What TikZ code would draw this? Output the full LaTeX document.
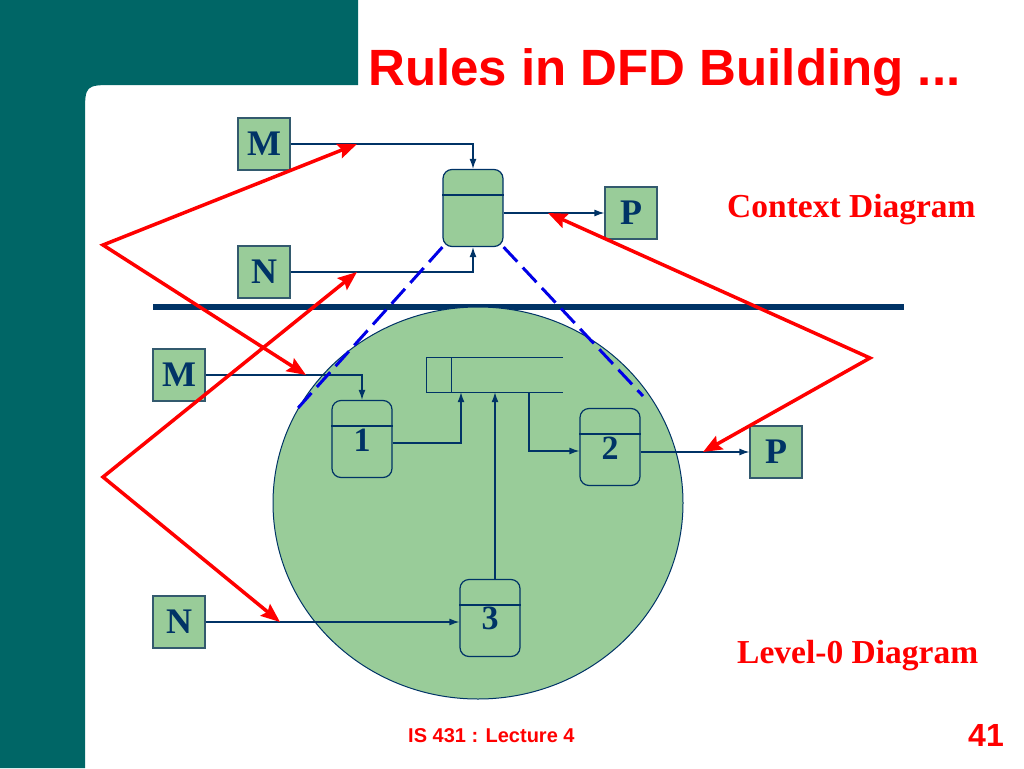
\documentclass[tikz,border=0pt]{standalone}
\usepackage{fontspec}
\setmainfont{Liberation Serif}
\newfontfamily\arialfont{Liberation Sans}
\usetikzlibrary{arrows.meta}

\definecolor{slideteal}{RGB}{0,102,102}
\definecolor{boxgreen}{RGB}{153,204,153}
\definecolor{navyline}{RGB}{0,51,102}
\definecolor{boxedge}{RGB}{51,90,110}
\definecolor{dashblue}{RGB}{0,0,230}

\tikzset{
  ext/.style={draw=boxedge, line width=1.2pt, fill=boxgreen, minimum size=52pt, inner sep=0pt,
    text=navyline, font=\fontsize{36}{36}\selectfont\bfseries},
  proc/.style={draw=navyline, line width=1.2pt, fill=boxgreen, rounded corners=9pt,
    minimum width=60pt, minimum height=77pt, inner sep=0pt},
  num/.style={text=navyline, font=\fontsize{34}{34}\selectfont\bfseries, inner sep=0pt},
  flow/.style={draw=navyline, line width=1.3pt, -{Latex[length=10pt,width=7pt]}},
  hint/.style={draw=red, line width=3.5pt,
    {Stealth[length=19pt,width=15pt,inset=3pt]}-{Stealth[length=19pt,width=15pt,inset=3pt]}},
  zoomline/.style={draw=dashblue, line width=3pt, dash pattern=on 20pt off 8pt},
  heading/.style={anchor=base west, inner sep=0pt, text=red},
}

\begin{document}
\begin{tikzpicture}[x=1pt, y=-1pt]
    \useasboundingbox (0,0) rectangle (1024,768);

    % slide frame
    \fill[slideteal] (0,0) -- (358,0) -- (358,85) -- (115,85) .. controls (85,85) .. (85,115) -- (85,768) -- (0,768) -- cycle;
    \node[heading, font=\arialfont\bfseries\fontsize{51}{51}\selectfont] (title) at (368,85) {Rules in DFD Building ...};

    \draw[navyline, line width=6pt] (153,307) -- (904,307);
    \draw[navyline, line width=1pt, fill=boxgreen] (478,503) ellipse [x radius=205pt, y radius=196pt];

    % context diagram
    \node[proc] (pc) at (473,208) {};
    \node[ext] (Mt) at (264,144) {M};
    \node[ext] (Nt) at (264,272) {N};
    \node[ext] (Pt) at (631,213) {P};

    % level-0 diagram
    \node[proc] (p1) at (362,439) {};
    \node[proc] (p2) at (610,447) {};
    \node[proc] (p3) at (490,618) {};
    \node[ext] (Mb) at (179,375) {M};
    \node[ext] (Nb) at (179,622) {N};
    \node[ext] (Pb) at (776,452) {P};
    \node[minimum width=136pt, minimum height=34pt, inner sep=0pt] (store) at (495,375) {};
    \draw[navyline, line width=1.2pt] (store.north east) -- (store.north west) -- (store.south west) -- (store.south east);
    \draw[navyline, line width=1.2pt] ([xshift=25pt]store.north west) -- ([xshift=25pt]store.south west);

    \foreach \p in {pc,p1,p2,p3}
        \draw[navyline, line width=1.2pt] ([yshift=-26pt]\p.north west) -- ([yshift=-26pt]\p.north east);
    \node[num] (n1) at ([yshift=-40pt]p1.north) {1};
    \node[num] (n2) at ([yshift=-40pt]p2.north) {2};
    \node[num] (n3) at ([yshift=-40pt]p3.north) {3};

    \draw[flow] (Mt.east) -| (pc.north);
    \draw[flow] (Nt.east) -| (pc.south);
    \draw[flow] (Pt.west -| pc.east) -- (Pt.west);
    \draw[flow] (Mb.east) -| (p1.north);
    \draw[flow] ([yshift=-4pt]p1.east) -| ([xshift=-34pt]store.south);
    \draw[flow] (p3.north -| store.south) -- (store.south);
    \draw[flow] ([xshift=34pt]store.south) |- ([yshift=-4pt]p2.west);
    \draw[flow] (Pb.west -| p2.east) -- (Pb.west);
    \draw[flow] (Nb.east) -- (Nb.east -| p3.west);

    % zoom lines
    \coordinate (zoomL) at (298,408);
    \coordinate (zoomR) at (643,396);
    \draw[zoomline] (pc.south west) -- (zoomL);
    \draw[zoomline] (pc.south east) -- (zoomR);

    \node[heading, font=\bfseries\fontsize{33.5}{34}\selectfont] (ctx) at (727,217) {Context Diagram};
    \node[heading, font=\bfseries\fontsize{33.5}{34}\selectfont] (lvl) at (737,663) {Level-0 Diagram};
    \node[heading, font=\arialfont\bfseries\fontsize{20}{20}\selectfont] (foot) at (408,742) {IS 431 : Lecture 4};
    \node[heading, font=\arialfont\bfseries\fontsize{32}{32}\selectfont] (page) at (968,746) {41};

    % red hints
    \coordinate (kl1) at (103,245);
    \coordinate (kl2) at (103,477);
    \coordinate (kr) at (870,358);
    \coordinate (tMt) at (357,144);
    \coordinate (tMb) at (306,375);
    \coordinate (tNt) at (357,272);
    \coordinate (tNb) at (280,622);
    \coordinate (tPt) at (548,213);
    \coordinate (tPb) at (703,452);
    \draw[hint] (tMt) -- (kl1) -- (tMb);
    \draw[hint] (tNt) -- (kl2) -- (tNb);
    \draw[hint] (tPt) -- (kr) -- (tPb);
\end{tikzpicture}
\end{document}
